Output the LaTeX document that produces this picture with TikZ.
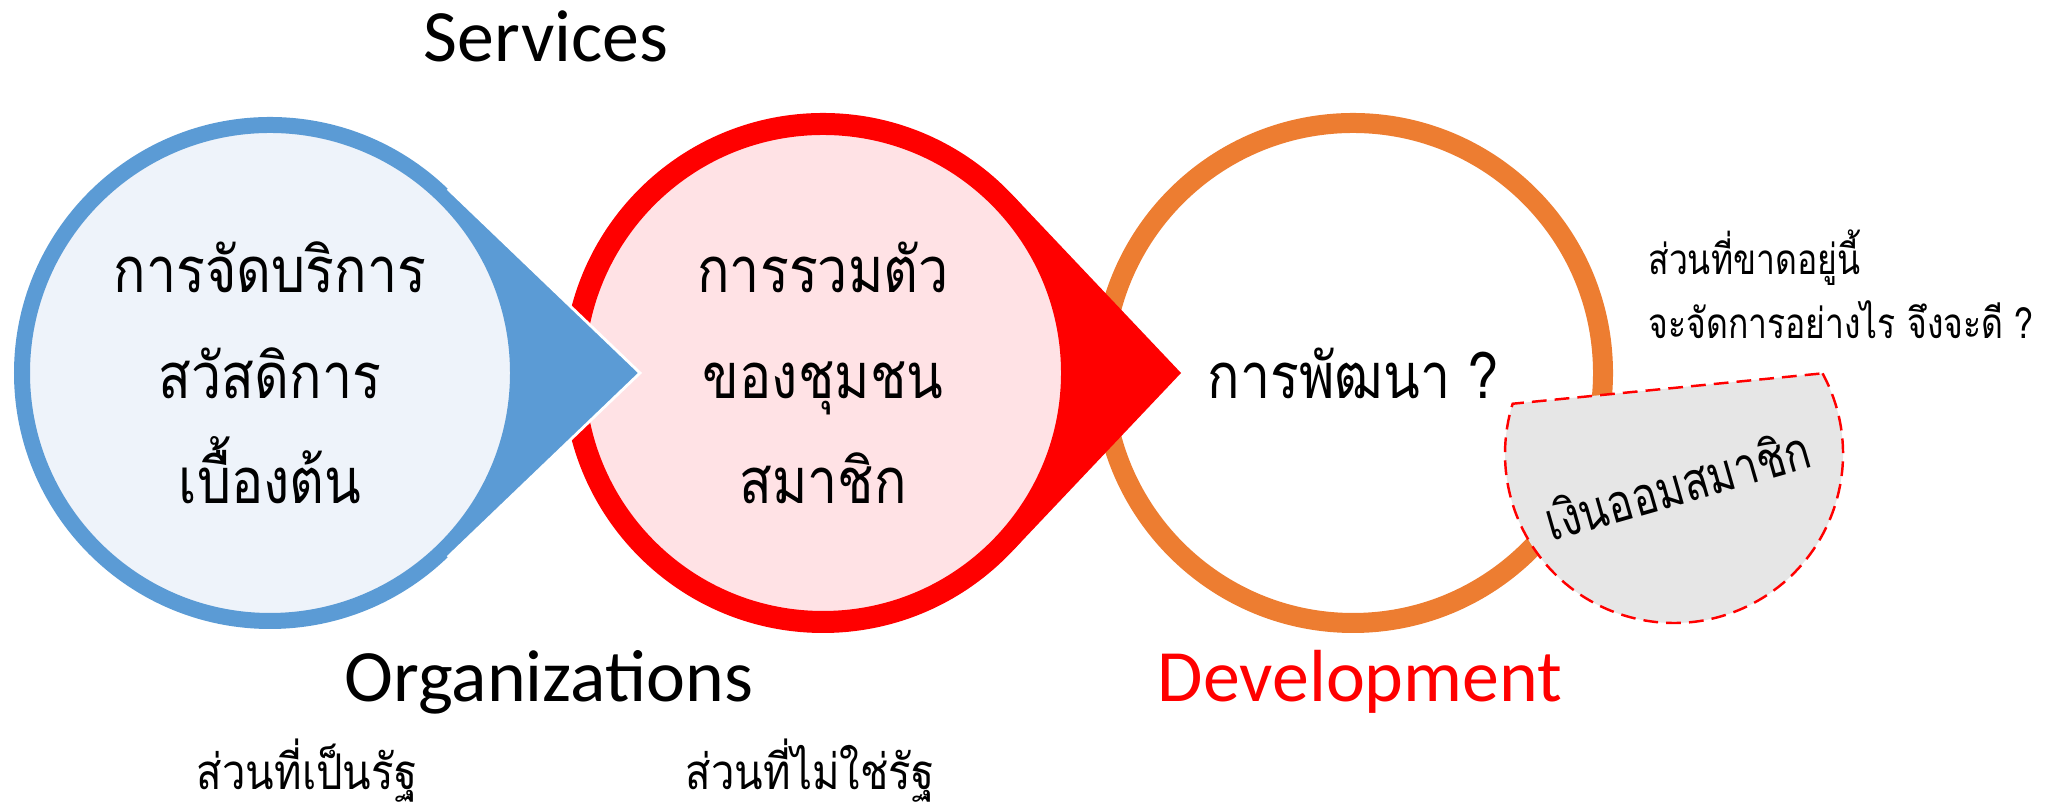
\documentclass[tikz,border=0pt]{standalone}
\usepackage{fontspec}
\setmainfont{Carlito}
\newfontfamily\thai[Script=Thai, FakeStretch=0.85]{Loma}
\newfontfamily\thainarrow[Script=Thai, FakeStretch=0.8]{Loma}
\usetikzlibrary{positioning}
\definecolor{welfareblue}{HTML}{5B9BD5}
\definecolor{welfarefill}{HTML}{EEF3FA}
\definecolor{unionred}{HTML}{FF0000}
\definecolor{unionfill}{HTML}{FFE2E5}
\definecolor{devorange}{HTML}{ED7D31}
\definecolor{savegrey}{HTML}{E6E6E6}
\tikzset{
  ring/.style={circle, inner sep=0pt, align=center,
               font=\thai\fontsize{18}{30}\selectfont},
  bigword/.style={font=\fontsize{21}{25}\selectfont, anchor=base},
  smallthai/.style={font=\thai\fontsize{14}{16}\selectfont, anchor=base},
  notethai/.style={font=\thainarrow\fontsize{12}{14}\selectfont, anchor=base west},
}

\begin{document}
\begin{tikzpicture}
\useasboundingbox (0,0) rectangle (20.5,8.12);
% development
\node[ring, minimum size=5.0cm, draw=devorange, line width=0.20cm, fill=white] (develop) at (13.53,4.39) {การพัฒนา ?};
% community + pointer
\node[ring, minimum size=4.98cm, draw=unionred, line width=0.22cm, fill=unionfill] (community) at (8.23,4.39) {การรวมตัว\\ของชุมชน\\สมาชิก};
\coordinate (communitytip) at (11.81,4.39);
\fill[unionred] (communitytip) -- (community.43) -- ([shift={(community.center)}]43:2.49)
  arc[start angle=43, end angle=-43, radius=2.49] -- (community.-43) -- cycle;
% welfare + pointer
\node[ring, minimum size=4.96cm, draw=welfareblue, line width=0.16cm, fill=welfarefill] (welfare) at (2.70,4.39) {การจัดบริการ\\สวัสดิการ\\เบื้องต้น};
\coordinate (welfaretip) at (6.40,4.39);
\fill[welfareblue] (welfaretip) -- (welfare.46) -- ([shift={(welfare.center)}]46:2.48)
  arc[start angle=46, end angle=-46, radius=2.48] -- (welfare.-46) -- cycle;
\draw[white, line width=0.8pt] (welfare.46) -- (welfaretip) -- (welfare.-46);
% savings segment
\coordinate (savingc) at (16.74,3.58);
\draw[unionred, fill=savegrey, line width=0.7pt, dash pattern=on 4.2pt off 2.3pt]
  ([shift={(savingc)}]28.5:1.69) arc[start angle=28.5, end angle=-197.3, radius=1.69] -- cycle;
\node[rotate=16, font=\thainarrow\fontsize{15}{17}\selectfont] (savings) at (16.77,3.28) {เงินออมสมาชิก};
% labels
\node[bigword] (services) at (5.46,7.50) {Services};
\node[bigword] (organizations) at (5.49,1.10) {Organizations};
\node[bigword, text=unionred] (development) at (13.60,1.10) {Development};
\node[smallthai] (state) at (3.07,0.22) {ส่วนที่เป็นรัฐ};
\node[smallthai] (nonstate) at (8.10,0.22) {ส่วนที่ไม่ใช่รัฐ};
\node[notethai] (missing) at (16.36,5.37) {ส่วนที่ขาดอยู่นี้};
\node[notethai] (howto) at (16.36,4.73) {จะจัดการอย่างไร จึงจะดี ?};
\end{tikzpicture}
\end{document}
